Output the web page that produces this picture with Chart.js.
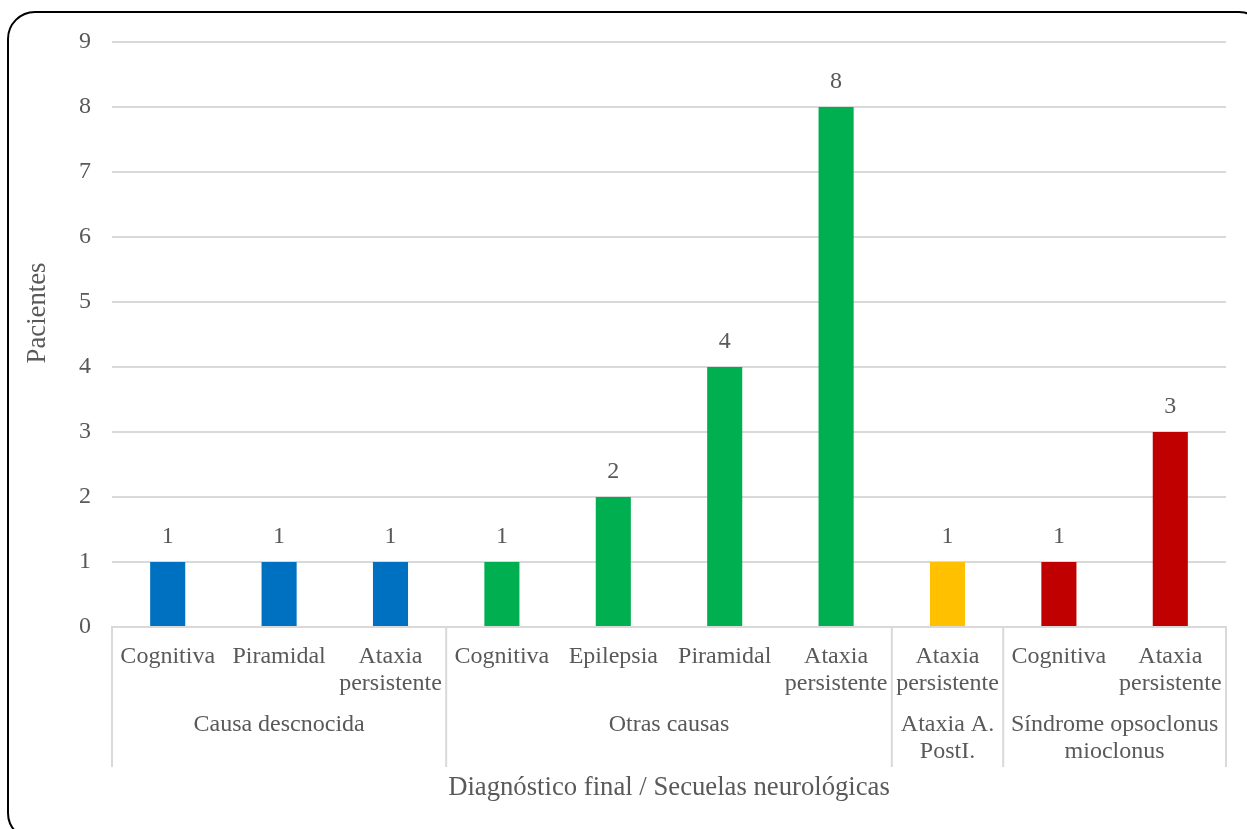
<!DOCTYPE html>
<html>
<head>
<meta charset="utf-8">
<script src="https://cdn.jsdelivr.net/npm/chart.js@4.4.1/dist/chart.umd.min.js"></script>
<style>
  html, body { margin: 0; padding: 0; background: #ffffff; overflow: hidden; }
  #wrap { position: relative; width: 1247px; height: 829px; }
  #frame {
    position: absolute; left: 7px; top: 11px; width: 1260px; height: 830px;
    border: 2px solid #000; border-radius: 28px; box-sizing: border-box; pointer-events: none;
  }
  canvas { position: absolute; left: 0; top: 0; }
</style>
</head>
<body>
<div id="wrap">
  <canvas id="chart" width="1247" height="829"></canvas>
  <div id="frame"></div>
</div>
<script>
// Secuela neurológica por paciente (nivel interior del eje)
const secuelas = [
  'Cognitiva', 'Piramidal', ['Ataxia', 'persistente'],
  'Cognitiva', 'Epilepsia', 'Piramidal', ['Ataxia', 'persistente'],
  ['Ataxia', 'persistente'],
  'Cognitiva', ['Ataxia', 'persistente']
];
// Diagnóstico final (nivel exterior del eje) y nº de secuelas en cada grupo
const diagnosticos = ['Causa descnocida', 'Otras causas', ['Ataxia A.', 'PostI.'], ['Síndrome opsoclonus', 'mioclonus']];
const tamanoGrupo = [3, 4, 1, 2];
const colorGrupo = ['#0070C0', '#00B050', '#FFC000', '#C00000'];
// Número de pacientes
const pacientes = [1, 1, 1, 1, 2, 4, 8, 1, 1, 3];
const yTicks = [0, 1, 2, 3, 4, 5, 6, 7, 8, 9];
const tituloX = 'Diagnóstico final / Secuelas neurológicas';
const tituloY = 'Pacientes';

const FONT = "'Liberation Serif', 'Times New Roman', serif";
const GRAY = '#595959';
const GRID = '#d9d9d9';

const barColors = [];
tamanoGrupo.forEach((n, g) => { for (let i = 0; i < n; i++) barColors.push(colorGrupo[g]); });

// Etiquetas de valor, separadores, nombres de grupo y títulos de los ejes
const multiLevel = {
  id: 'multiLevel',
  afterDatasetsDraw(chart) {
    const ctx = chart.ctx;
    const x = chart.scales.x, y = chart.scales.y;
    const area = chart.chartArea;
    const meta = chart.getDatasetMeta(0);
    ctx.save();
    ctx.font = '24px ' + FONT;
    ctx.fillStyle = GRAY;
    ctx.textAlign = 'center';
    ctx.textBaseline = 'middle';
    meta.data.forEach((bar, i) => {
      ctx.fillText(String(pacientes[i]), bar.x, y.getPixelForValue(pacientes[i]) - 25);
    });

    const half = (x.getPixelForValue(1) - x.getPixelForValue(0)) / 2;
    const top = area.bottom;
    const lineBottom = top + 140;
    ctx.strokeStyle = GRID;
    ctx.lineWidth = 2;
    let start = 0;
    const edges = [x.getPixelForValue(0) - half];
    tamanoGrupo.forEach((n, g) => {
      const end = start + n - 1;
      const left = x.getPixelForValue(start) - half;
      const right = x.getPixelForValue(end) + half;
      edges.push(right);
      const cx = (left + right) / 2;
      const lines = Array.isArray(diagnosticos[g]) ? diagnosticos[g] : [diagnosticos[g]];
      lines.forEach((t, k) => ctx.fillText(t, cx, top + 98 + k * 27));
      start += n;
    });
    edges.forEach(px => {
      ctx.beginPath();
      ctx.moveTo(px, top);
      ctx.lineTo(px, lineBottom);
      ctx.stroke();
    });

    // Títulos de los ejes
    ctx.font = '26.7px ' + FONT;
    ctx.fillText(tituloX, (area.left + area.right) / 2, top + 161);
    ctx.translate(38, 313);
    ctx.rotate(-Math.PI / 2);
    ctx.fillText(tituloY, 0, 0);
    ctx.restore();
  }
};

new Chart(document.getElementById('chart'), {
  type: 'bar',
  data: {
    labels: secuelas,
    datasets: [{
      data: pacientes,
      backgroundColor: barColors,
      borderWidth: 0,
      categoryPercentage: 1,
      barPercentage: 0.315
    }]
  },
  options: {
    responsive: false,
    devicePixelRatio: 1,
    animation: false,
    layout: { padding: { top: 42, right: 21, left: 0, bottom: 0 } },
    plugins: { legend: { display: false }, tooltip: { enabled: false } },
    scales: {
      x: {
        grid: { display: false, drawTicks: false },
        border: { display: true, color: GRID, width: 2 },
        ticks: {
          font: { family: FONT, size: 24, lineHeight: 1.125 },
          color: GRAY, padding: 16, maxRotation: 0, autoSkip: false
        },
        afterFit(scale) { scale.height = 202; }
      },
      y: {
        min: 0, max: 9,
        afterBuildTicks(scale) { scale.ticks = yTicks.map(v => ({ value: v })); },
        grid: { color: GRID, lineWidth: 2, drawTicks: false },
        border: { display: false },
        ticks: { font: { family: FONT, size: 24 }, color: GRAY, padding: 21 },
        afterFit(scale) { scale.width = 112; }
      }
    }
  },
  plugins: [multiLevel]
});
</script>
</body>
</html>
